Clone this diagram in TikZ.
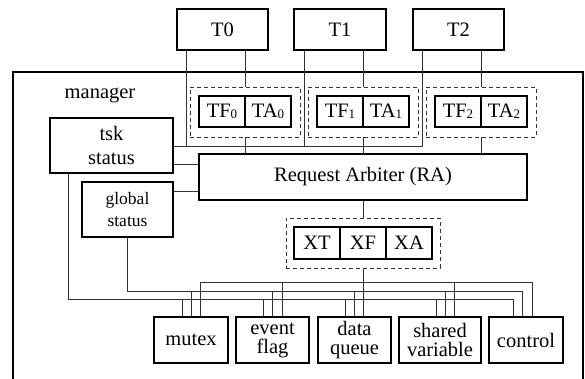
\documentclass[tikz,border=0pt]{standalone}
\usepackage{fontspec}
\setmainfont{Liberation Serif}
\newcommand\subdig[1]{\raisebox{-1.2pt}{\fontsize{13}{13}\selectfont #1}}
\begin{document}
\begin{tikzpicture}[x=1pt,y=-1pt,
  box/.style={draw, line width=1.5pt, inner sep=0pt, align=center, font=\fontsize{20.5}{24}\selectfont},
  lowbox/.style={box, minimum height=46pt, font=\fontsize{20.5}{19}\selectfont},
  cell/.style={box, minimum width=46pt, minimum height=31pt},
  dbox/.style={draw=black!80, line width=0.9pt, dash pattern=on 4pt off 3pt, minimum height=50pt, inner sep=0pt},
  wire/.style={draw=black!80, line width=0.9pt}]
\useasboundingbox (0,0) rectangle (585,379);

% manager frame
\draw[line width=2pt] (13,385) -- (13,72) -- (583,72) -- (583,385);
\node[font=\fontsize{20.5}{24}\selectfont] (mgr) at (100,95) {manager};

% tasks
\node[box, minimum width=91pt, minimum height=41pt] (T0) at (222.5,29.5) {T0};
\node[box, minimum width=92pt, minimum height=41pt] (T1) at (340,29.5) {T1};
\node[box, minimum width=91pt, minimum height=41pt] (T2) at (458.5,29.5) {T2};

% dashed groups
\node[dbox, minimum width=110pt] (d0) at (245,112) {};
\node[dbox, minimum width=110pt] (d1) at (363,112) {};
\node[dbox, minimum width=110pt] (d2) at (481,112) {};
\node[cell] (TF0) at (222,111.5) {TF\subdig{0}};
\node[cell] (TA0) at (268,111.5) {TA\subdig{0}};
\node[cell] (TF1) at (340,111.5) {TF\subdig{1}};
\node[cell] (TA1) at (386,111.5) {TA\subdig{1}};
\node[cell] (TF2) at (458,111.5) {TF\subdig{2}};
\node[cell] (TA2) at (504,111.5) {TA\subdig{2}};

% status boxes
\node[box, minimum width=123pt, minimum height=55pt] (tsk) at (111.5,145.5) {tsk\\status};
\node[box, minimum width=91pt, minimum height=55pt, font=\fontsize{17.5}{22}\selectfont] (gs) at (127.5,209.5) {global\\status};

% request arbiter
\node[box, minimum width=328pt, minimum height=46pt] (RA) at (363,177) {Request Arbiter (RA)};

% XT XF XA
\node[dbox, minimum width=154pt] (xd) at (363,243) {};
\node[cell, minimum height=32pt] (XT) at (317,243) {XT};
\node[cell, minimum height=32pt] (XF) at (363,243) {XF};
\node[cell, minimum height=32pt] (XA) at (409,243) {XA};

% bottom objects
\node[lowbox, minimum width=74pt] (mx) at (191,340) {mutex};
\node[lowbox, minimum width=73pt] (ef) at (272.5,340) {event\\flag};
\node[lowbox, minimum width=73pt] (dq) at (354.5,340) {data\\queue};
\node[lowbox, minimum width=82pt] (sv) at (440,340) {shared\\variable};
\node[lowbox, minimum width=74pt] (ctl) at (526,340) {control};

% connectors from tasks
\coordinate (hT) at (0,146);
\coordinate (a0) at (186,0);
\coordinate (a1) at (304,0);
\coordinate (a2) at (422,0);
\draw[wire] (T0.south -| a0) -- (a0 |- hT);
\draw[wire] (T1.south -| a1) -- (a1 |- hT);
\draw[wire] (T2.south -| a2) -- (a2 |- hT) -- (tsk.east |- hT);
\draw[wire] (T0.south -| d0.north) -- (d0.north);
\draw[wire] (T1.south -| d1.north) -- (d1.north);
\draw[wire] (T2.south -| d2.north) -- (d2.north);
\draw[wire] (d0.south) -- (d0.south |- RA.north);
\draw[wire] (d1.south) -- (d1.south |- RA.north);
\draw[wire] (d2.south) -- (d2.south |- RA.north);

% status to RA
\coordinate (y164) at (0,164);
\coordinate (y191) at (0,191);
\draw[wire] (tsk.east |- y164) -- (RA.west |- y164);
\draw[wire] (gs.east |- y191) -- (RA.west |- y191);

% RA to X group and down
\draw[wire] (RA.south) -- (xd.north);
\draw[wire] (xd.south) -- (xd.south |- dq.north);

% buses
\coordinate (tx) at (68,0);
\coordinate (c1) at (513,299);
\coordinate (c2) at (522,291);
\coordinate (c3) at (532,282);
\coordinate (s3) at (200,282);
\draw[wire] (tsk.south -| tx) |- (c1) -- (c1 |- ctl.north);
\draw[wire] (gs.south) |- (c2) -- (c2 |- ctl.north);
\draw[wire] (s3 |- mx.north) -- (s3) -- (c3) -- (c3 |- ctl.north);
\foreach \x/\n/\y in {182/mx/299, 263/ef/299, 345/dq/299, 436/sv/299,
                      191/mx/291, 272/ef/291, 354/dq/291, 445/sv/291,
                      282/ef/282, 454/sv/282}{
  \coordinate (tap) at (\x,\y);
  \draw[wire] (tap) -- (tap |- \n.north);
}
\end{tikzpicture}
\end{document}
